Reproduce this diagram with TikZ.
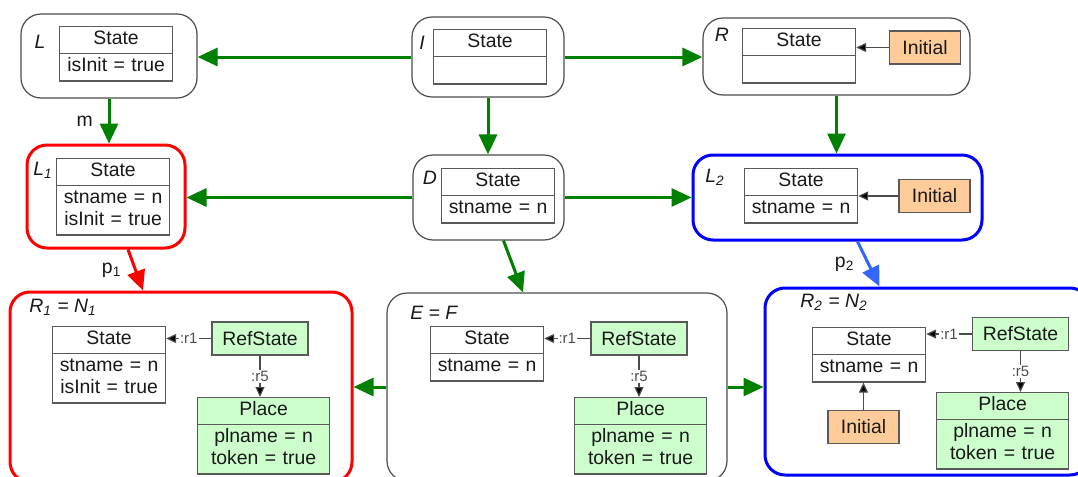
\documentclass[tikz,border=0pt]{standalone}
\usepackage{fontspec}
\setmainfont{Liberation Sans}
\usetikzlibrary{arrows.meta,shapes.multipart,calc}
\definecolor{flowgreen}{RGB}{0,128,0}
\definecolor{nacblue}{RGB}{0,0,255}
\definecolor{poblue}{RGB}{51,102,255}
\definecolor{initorange}{RGB}{255,204,153}
\definecolor{reffill}{RGB}{204,255,204}
\tikzset{
  graph/.style={draw=black!70, line width=0.6pt, rounded corners=10pt, inner sep=0pt},
  nacgraph/.style={graph, line width=1.5pt},
  cls/.style={rectangle split, rectangle split parts=2, draw=black!65, line width=0.6pt,
    text width=52.5pt, align=center, inner xsep=2pt, inner ysep=1pt, anchor=north west, text=black!90},
  placecls/.style={cls, fill=reffill, text width=62pt},
  refnode/.style={draw=black!65, line width=0.6pt, fill=reffill, minimum width=48pt,
    minimum height=16.5pt, inner sep=1pt, text=black!90},
  initnode/.style={draw=black!65, line width=0.6pt, fill=initorange, minimum width=35.5pt,
    minimum height=16.5pt, inner sep=1pt, text=black!90},
  flow/.style={draw=flowgreen, line width=1.5pt, -{Triangle[length=10pt,width=9pt]}},
  link/.style={draw=black!70, line width=0.6pt, -{Triangle[length=5pt,width=4.5pt,fill=black]}},
  role/.style={fill=white, inner sep=0.5pt, font=\fontsize{7.5}{8}\selectfont, text=black!70},
  gname/.style={font=\fontsize{9.7}{11}\selectfont\itshape, text=black!90, inner sep=0pt}
}
\begin{document}
\begin{tikzpicture}[x=0.5pt,y=-0.5pt, font=\fontsize{9.7}{11}\selectfont]
\clip (0,0) rectangle (1078,477);

% graphs
\node[graph, minimum width=88pt, minimum height=42pt] (L) at (109,56) {};
\node[graph, minimum width=76pt, minimum height=40pt] (I) at (488,57) {};
\node[graph, minimum width=133.5pt, minimum height=38.5pt] (R) at (836.5,56.5) {};
\node[nacgraph, draw=red, minimum width=79pt, minimum height=51.5pt] (L1) at (106,196.5) {};
\node[graph, minimum width=75.5pt, minimum height=42.5pt] (D) at (488.5,197.5) {};
\node[nacgraph, draw=nacblue, minimum width=144.5pt, minimum height=42.5pt] (L2) at (837.5,197.5) {};
\node[nacgraph, draw=red, minimum width=171pt, minimum height=95pt] (R1) at (181,387) {};
\node[graph, minimum width=170pt, minimum height=94pt] (E) at (557,387) {};
\node[nacgraph, draw=nacblue, minimum width=162.5pt, minimum height=93.5pt] (R2) at (927.5,381.5) {};

% graph names
\node[gname] (Lname) at (40,42) {L};
\node[gname] (Iname) at (422,43) {I};
\node[gname] (Rname) at (722,35) {R};
\node[gname] (L1name) at (43,170) {L\textsubscript{1}};
\node[gname] (Dname) at (430,178) {D};
\node[gname] (L2name) at (715,177) {L\textsubscript{2}};
\node[gname, anchor=west] (R1name) at (29,307) {R\textsubscript{1} = N\textsubscript{1}};
\node[gname, anchor=west] (Ename) at (410,313) {E = F};
\node[gname, anchor=west] (R2name) at (800,302) {R\textsubscript{2} = N\textsubscript{2}};

% states
\node[cls] (Lst) at (59,26) {\strut State \nodepart{two} \strut isInit = true};
\node[cls] (Ist) at (433,29) {\strut State \nodepart{two} \strut};
\node[cls] (Rst) at (742,28) {\strut State \nodepart{two} \strut};
\node[cls] (L1st) at (56,158) {\strut State \nodepart{two} \strut stname = n\\ \strut isInit = true};
\node[cls] (Dst) at (441,168) {\strut State \nodepart{two} \strut stname = n};
\node[cls] (L2st) at (744,168) {\strut State \nodepart{two} \strut stname = n};
\node[cls] (R1st) at (52,326) {\strut State \nodepart{two} \strut stname = n\\ \strut isInit = true};
\node[cls] (Est) at (430,326) {\strut State \nodepart{two} \strut stname = n};
\node[cls] (R2st) at (812,327) {\strut State \nodepart{two} \strut stname = n};

% initial markers
\node[initnode] (Rinit) at (925,47.5) {Initial};
\node[initnode] (L2init) at (934.5,196) {Initial};
\node[initnode] (R2init) at (863.5,427) {Initial};
\draw[link] (Rinit.west) -- (Rinit.west -| Rst.east);
\draw[link] (L2init.west) -- (L2init.west -| L2st.east);
\draw[link] (R2init.north) -- (R2init.north |- R2st.south);

% refstates and places
\node[refnode] (R1ref) at (260,338.5) {RefState};
\node[refnode] (Eref) at (639,338.5) {RefState};
\node[refnode] (R2ref) at (1020.5,334) {RefState};
\node[placecls] (R1pl) at (197,397) {\strut Place \nodepart{two} \strut plname = n\\ \strut token = true};
\node[placecls] (Epl) at (574,397) {\strut Place \nodepart{two} \strut plname = n\\ \strut token = true};
\node[placecls] (R2pl) at (936,392) {\strut Place \nodepart{two} \strut plname = n\\ \strut token = true};
\foreach \g in {R1, E, R2}{
  \draw[link] (\g ref.west) -- (\g ref.west -| \g st.east) node[role, midway] {:r1};
  \draw[link] (\g ref.south) -- (\g ref.south |- \g pl.north) node[role, midway] {:r5};
}

% morphisms
\draw[flow] (I.west) -- (I.west -| L.east);
\draw[flow] (I.east) -- (I.east -| R.west);
\draw[flow] (I.south) -- (I.south |- D.north);
\draw[flow] (R.south) -- (R.south |- L2.north);
\draw[flow] (L.south) -- (L.south |- L1.north) node[midway, left=4pt, text=black!90] {m};
\draw[flow] (D.west) -- (D.west -| L1.east);
\draw[flow] (D.east) -- (D.east -| L2.west);
\draw[flow] ([xshift=7.5pt]D.south) -- ([xshift=-17pt]E.north);
\draw[flow] (E.west) -- (E.west -| R1.east);
\draw[flow] (E.east) -- (E.east -| R2.west);
\draw[flow, draw=red] ([xshift=11pt]L1.south) -- ([xshift=-19pt]R1.north)
  node[midway, left=3pt, text=black!90] {p\textsubscript{1}};
\draw[flow, draw=poblue] ([xshift=10pt]L2.south) -- ([xshift=-24pt]R2.north)
  node[midway, left=3pt, text=black!90] {p\textsubscript{2}};
\end{tikzpicture}
\end{document}
